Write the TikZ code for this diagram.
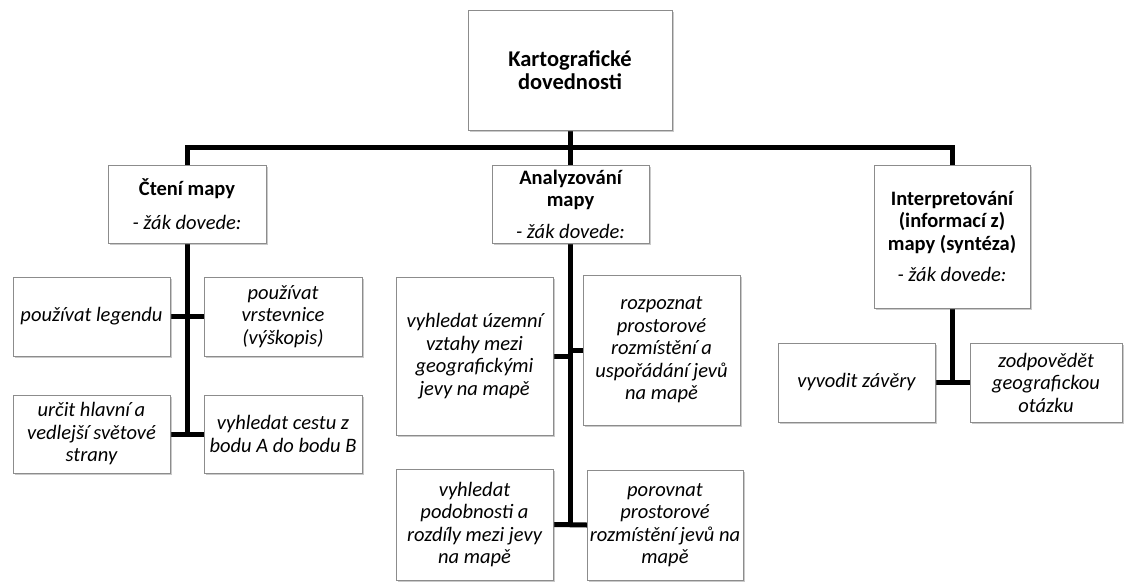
\documentclass[tikz,border=0pt]{standalone}
\usepackage{fontspec}
\setmainfont{Carlito}
\usetikzlibrary{shadows,backgrounds}
\tikzset{
  box/.style={draw=black!45, fill=white, line width=0.8pt, align=center, inner xsep=0pt, inner ysep=2pt,
    font=\fontsize{20.5}{22.5}\selectfont,
    drop shadow={shadow xshift=2pt, shadow yshift=-2pt, opacity=0.35, fill=black!60}},
  rootbox/.style={box, font=\fontsize{22.5}{23.5}\selectfont},
  conn/.style={line width=5pt, black, line cap=rect},
}
\begin{document}
\begin{tikzpicture}[x=1pt,y=-1pt]
\useasboundingbox (0,0) rectangle (1125,583);
% top
\node[rootbox, minimum width=204pt, minimum height=120pt] (top) at (570,70) {\bfseries Kartografické\\\bfseries dovednosti};
% level 2
\node[box, minimum width=158pt, minimum height=78pt] (cteni) at (187,204) {\bfseries Čtení mapy\\[11pt]\itshape - žák dovede:};
\node[box, minimum width=157pt, minimum height=78pt] (anal) at (570.5,204) {\bfseries Analyzování\\\bfseries mapy\\[9pt]\itshape - žák dovede:};
\node[box, minimum width=156pt, minimum height=143pt] (interp) at (952,236.5) {\bfseries Interpretování\\\bfseries (informací z)\\\bfseries mapy (syntéza)\\[9pt]\itshape - žák dovede:};
% left children
\node[box, minimum width=157pt, minimum height=79pt] (L1) at (91.5,316.5) {\itshape používat legendu};
\node[box, minimum width=158pt, minimum height=79pt] (L2) at (283,316.5) {\itshape používat\\\itshape vrstevnice\\\itshape (výškopis)};
\node[box, minimum width=157pt, minimum height=78pt] (L3) at (91.5,434) {\itshape určit hlavní a\\\itshape vedlejší světové\\\itshape strany};
\node[box, minimum width=158pt, minimum height=78pt] (L4) at (283,434) {\itshape vyhledat cestu z\\\itshape bodu A do bodu B};
% middle children
\node[box, minimum width=157pt, minimum height=158pt] (M1) at (474.5,356) {\itshape vyhledat územní\\\itshape vztahy mezi\\\itshape geografickými\\\itshape jevy na mapě};
\node[box, minimum width=157pt, minimum height=150pt] (M2) at (661.5,350) {\itshape rozpoznat\\\itshape prostorové\\\itshape rozmístění a\\\itshape uspořádání jevů\\\itshape na mapě};
\node[box, minimum width=157pt, minimum height=111pt] (M3) at (474.5,524.5) {\itshape vyhledat\\\itshape podobnosti a\\\itshape rozdíly mezi jevy\\\itshape na mapě};
\node[box, minimum width=156pt, minimum height=110pt] (M4) at (665,525) {\itshape porovnat\\\itshape prostorové\\\itshape rozmístění jevů na\\\itshape mapě};
% right children
\node[box, minimum width=157pt, minimum height=79pt] (R1) at (856.5,382.5) {\itshape vyvodit závěry};
\node[box, minimum width=152pt, minimum height=79pt] (R2) at (1046,382.5) {\itshape zodpovědět\\\itshape geografickou\\\itshape otázku};
% connectors
\begin{scope}[on background layer]
\coordinate (bar) at (570,148);
\draw[conn] (top.south) -- (top.south |- bar);
\draw[conn] (cteni.north) -- (cteni.north |- bar) -- (interp.north |- bar) -- (interp.north);
\draw[conn] (anal.north) -- (anal.north |- bar);
% left column
\draw[conn] (cteni.south) -- (cteni.south |- L3.east);
\draw[conn] (L1.east) -- (L2.west);
\draw[conn] (L3.east) -- (L4.west);
% middle column
\draw[conn] (anal.south) -- (anal.south |- M3.east);
\draw[conn] (M1.east) -- (M1.east -| anal.south);
\draw[conn] (M2.west) -- (M2.west -| anal.south);
\draw[conn] (M3.east) -- (M4.west);
% right column
\draw[conn] (interp.south) -- (interp.south |- R1.east);
\draw[conn] (R1.east) -- (R2.west);
\end{scope}
\end{tikzpicture}
\end{document}
